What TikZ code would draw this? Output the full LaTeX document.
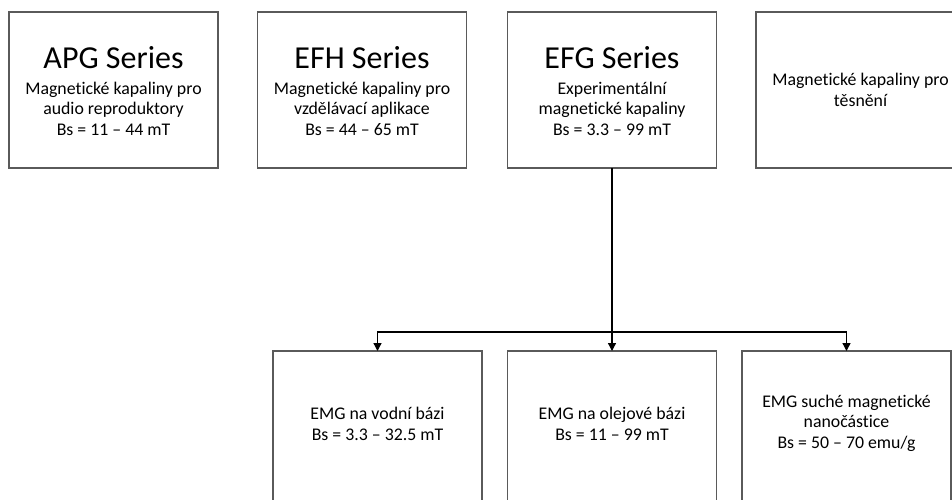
\documentclass[tikz,border=0pt]{standalone}
\usepackage{fontspec}
\setmainfont{Carlito}[RawFeature={-liga}]
\usetikzlibrary{arrows.meta}
\definecolor{boxline}{HTML}{5A5A5A}
\tikzset{
  box/.style={draw=boxline, line width=1.6pt, fill=white, minimum width=209pt, minimum height=156pt, inner sep=0pt, outer sep=0pt},
  title/.style={anchor=base, font=\fontsize{32}{36}\selectfont, inner sep=0pt},
  info/.style={anchor=base, font=\fontsize{17.8}{20.5}\selectfont, align=center, inner sep=0pt},
  conn/.style={draw=black, line width=1.3pt},
  arr/.style={conn, -{Triangle[length=8pt,width=8pt]}}
}
\begin{document}
\begin{tikzpicture}[x=1pt,y=-1pt]
\useasboundingbox (0,0) rectangle (952,499);
\clip (0,0) rectangle (952,499);
\fill[white] (0,0) rectangle (952,499);
% top row
\node[box] (apg) at (113.5,90) {};
\node[box] (efh) at (362,90) {};
\node[box] (efg) at (612,90) {};
\node[box] (seal) at (860.5,90) {};
% bottom row
\node[box] (water) at (377.5,429) {};
\node[box] (oil) at (612,429) {};
\node[box] (dry) at (846.5,429) {};
% texts (anchor base = baseline of the last line)
\node[title] (apgt) at (113.5,68) {APG Series};
\node[info] (apgi) at (113.5,135) {Magnetické kapaliny pro\\audio reproduktory\\Bs = 11 – 44 mT};
\node[title] (efht) at (362,68) {EFH Series};
\node[info] (efhi) at (362,135) {Magnetické kapaliny pro\\vzdělávací aplikace\\Bs = 44 – 65 mT};
\node[title] (efgt) at (612,68) {EFG Series};
\node[info] (efgi) at (612,135) {Experimentální\\magnetické kapaliny\\Bs = 3.3 – 99 mT};
\node[info] (seali) at (860.5,106) {Magnetické kapaliny pro\\těsnění};
\node[info] (wateri) at (377.5,440) {EMG na vodní bázi\\Bs = 3.3 – 32.5 mT};
\node[info] (oili) at (612,440) {EMG na olejové bázi\\Bs = 11 – 99 mT};
\node[info] (dryi) at (846.5,448) {EMG suché magnetické\\nanočástice\\Bs = 50 – 70 emu/g};
% connectors
\coordinate (j) at (612,332);
\draw[conn] (efg.south) -- (j);
\draw[arr] (j) -| (water.north);
\draw[arr] (j) -- (oil.north);
\draw[arr] (j) -| (dry.north);
\end{tikzpicture}
\end{document}
